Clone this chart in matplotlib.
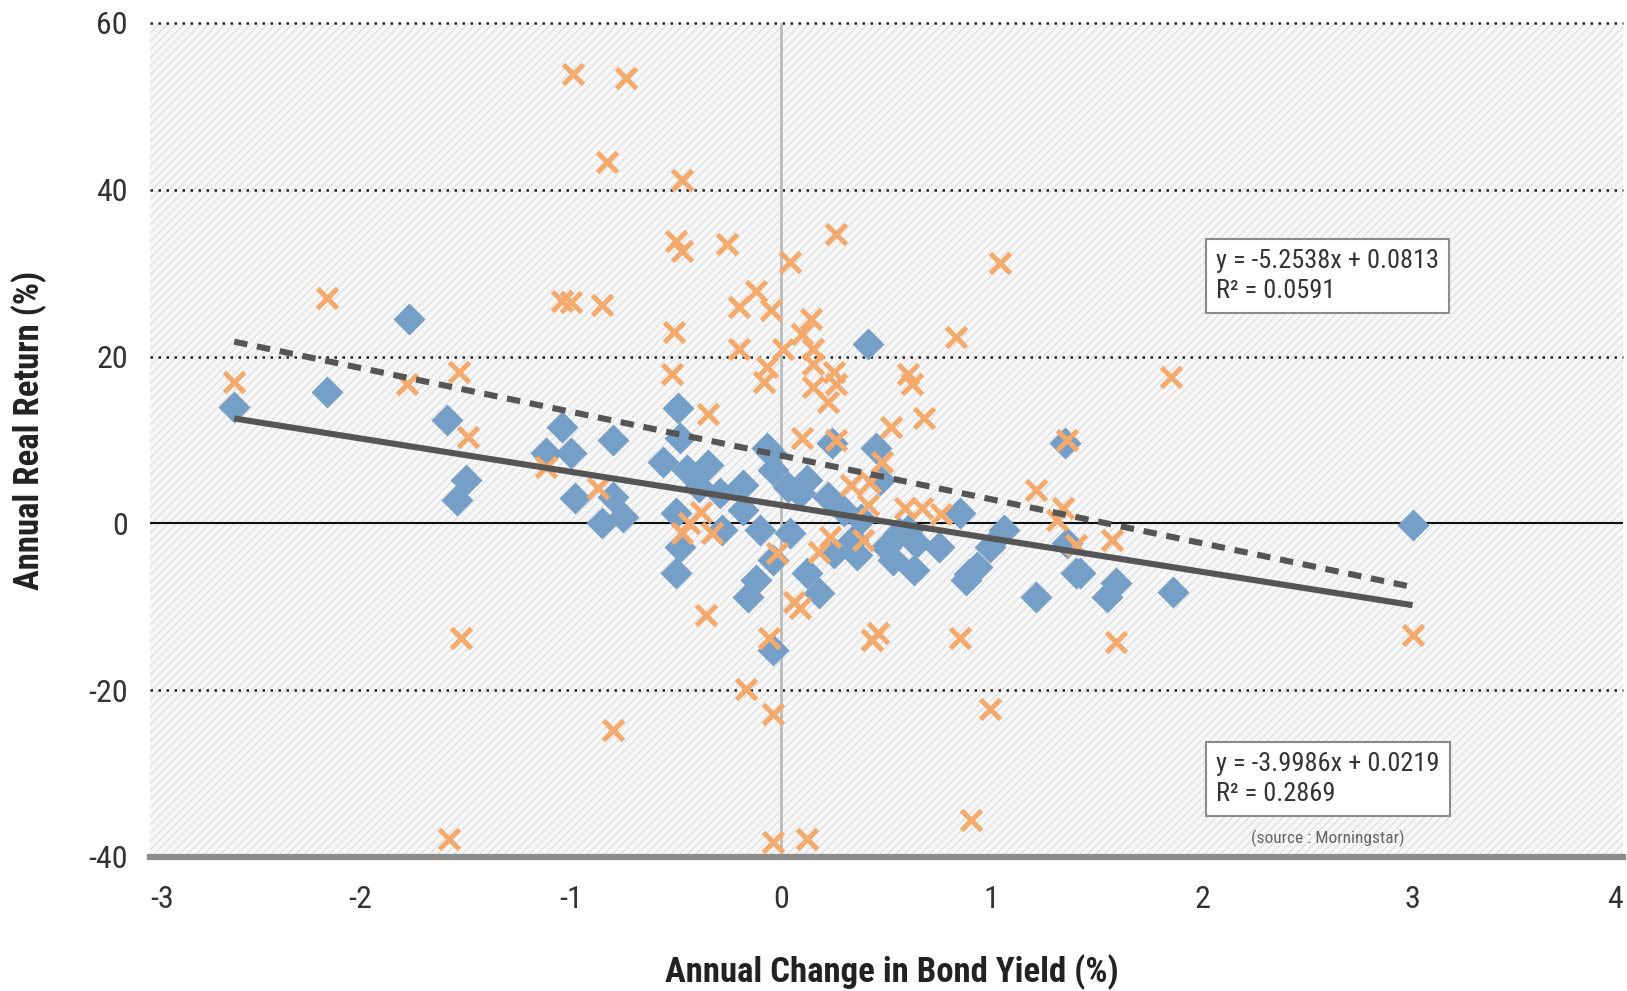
import matplotlib
matplotlib.use('Agg')
import matplotlib.pyplot as plt
from matplotlib import font_manager as fm
from matplotlib.patches import Rectangle
import numpy as np

# ---------------- data ----------------
blue_x = [-2.60, -2.16, -1.77, -1.59, -1.50, -1.54, -1.04, -1.12, -1.00, -0.98,
          -0.80, -0.80, -0.85, -0.75, -0.56, -0.49, -0.48, -0.45, -0.35, -0.39,
          -0.29, -0.18, -0.05, -0.04, 0.03, 0.12, 0.09, 0.22, 0.24, 0.45,
          0.47, -0.50, -0.48, -0.50, -0.28, -0.18, -0.10, 0.04, -0.04, -0.12,
          -0.16, 0.12, 0.18, 0.25, 0.34, 0.50, 0.53, 0.63, 0.60, -0.04,
          0.41, -0.07, 1.35, 0.85, 1.06, 0.99, 0.93, 0.88, 0.75, 1.36,
          1.40, 1.21, 1.59, 1.55, 1.86, 3.00, 0.30, 0.38, 0.36, 0.56,
          0.64, 0.89, 1.42]
blue_y = [13.9, 15.8, 24.5, 12.4, 5.2, 2.8, 11.5, 8.4, 8.4, 3.0,
          10.0, 3.2, 0.0, 0.8, 7.4, 13.8, 10.2, 6.4, 7.0, 4.4,
          3.6, 4.6, 8.4, 6.4, 4.4, 5.2, 3.6, 3.2, 9.6, 9.0,
          5.2, 1.2, -2.8, -6.0, -0.8, 1.6, -0.8, -1.2, -4.4, -6.8,
          -8.8, -6.0, -8.4, -3.6, -2.0, -2.8, -4.4, -5.6, -0.8, -15.2,
          21.5, 9.1, 9.6, 1.2, -0.8, -2.8, -5.2, -6.8, -2.8, -2.4,
          -6.0, -8.8, -7.2, -8.8, -8.2, -0.2, 1.5, 0.5, -3.8, -1.2,
          -2.4, -6.1, -6.0]

orange_x = [-2.60, -2.16, -1.78, -1.53, -1.49, -1.52, -1.58, -1.12, -0.87, -0.99,
            -0.74, -0.83, -0.47, -0.50, -0.47, -0.26, 0.26, 0.04, 1.04, -1.04,
            -1.00, -0.85, -0.12, -0.20, -0.05, 0.14, -0.51, 0.10, 0.83, -0.20,
            0.01, 0.15, -0.52, -0.07, -0.08, 0.15, 0.25, 0.15, 0.26, 0.22,
            0.60, 0.62, 0.68, 0.52, -0.35, 0.10, 0.26, 1.36, 1.85, 0.48,
            0.33, 0.42, 0.41, 0.59, 0.67, 0.76, 1.21, 1.34, 1.31, 1.40,
            1.57, -0.38, -0.44, -0.47, -0.33, -0.02, 0.18, 0.23, 0.39, 0.06,
            0.09, -0.36, -0.06, 0.43, 0.46, 0.85, 1.59, 3.00, 0.99, 0.90,
            0.12, -0.04, -0.04, -0.17, -0.80]
orange_y = [17.0, 27.0, 16.7, 18.2, 10.3, -13.8, -37.8, 6.8, 4.2, 53.9,
            53.4, 43.3, 41.2, 33.9, 32.7, 33.5, 34.7, 31.3, 31.2, 26.7,
            26.5, 26.2, 27.9, 26.0, 25.6, 24.5, 22.9, 22.7, 22.3, 20.9,
            20.9, 20.9, 17.9, 18.7, 16.9, 19.1, 18.1, 16.3, 16.7, 14.5,
            17.9, 16.7, 12.6, 11.5, 13.1, 10.2, 10.0, 10.0, 17.5, 7.4,
            4.6, 5.0, 2.2, 1.9, 1.9, 1.1, 4.0, 1.8, 0.4, -2.6,
            -2.0, 1.4, 0.0, -1.2, -1.2, -3.6, -3.4, -1.6, -2.0, -9.4,
            -10.2, -11.0, -13.8, -14.0, -13.2, -13.8, -14.2, -13.4, -22.3, -35.6,
            -37.8, -38.2, -22.9, -19.9, -24.8]

# linear trend lines (in % units): blue = solid, orange = dashed
fit_slope = {'blue': -3.9986, 'orange': -5.2538}
fit_intercept = {'blue': 2.19, 'orange': 8.13}
eq_blue = ["y = -3.9986x + 0.0219", "R\u00b2 = 0.2869"]
eq_orange = ["y = -5.2538x + 0.0813", "R\u00b2 = 0.0591"]
source_text = "(source : Morningstar)"

x_ticks = [-3, -2, -1, 0, 1, 2, 3, 4]
y_ticks = [-40, -20, 0, 20, 40, 60]
dotted_grid = [60, 40, 20, -20]
x_label = "Annual Change in Bond Yield (%)"
y_label = "Annual Real Return (%)"

# ---------------- fonts ----------------
names = {f.name for f in fm.fontManager.ttflist}
family = 'DejaVu Sans'
for cand in ['Roboto Condensed', 'Liberation Sans Narrow', 'Open Sans Condensed']:
    if cand in names:
        family = cand
        break
plt.rcParams['font.family'] = [family, 'DejaVu Sans']
if family == 'DejaVu Sans':
    plt.rcParams['font.stretch'] = 'condensed'
plt.rcParams['hatch.linewidth'] = 1.0

BLUE = '#769fc8'
ORANGE = '#f4aa6c'
LINE = '#555555'
TXT = '#333333'

W, H = 1627, 991
fig = plt.figure(figsize=(W / 100, H / 100), dpi=100)
fig.patch.set_facecolor('white')
ax = fig.add_axes([150 / W, (H - 857) / H, 1473 / W, 834 / H])
ax.set_xlim(-3, 4)
ax.set_ylim(-40, 60)
ax.set_facecolor('#f6f6f6')
ax.add_patch(Rectangle((0, 0), 1, 1, transform=ax.transAxes, facecolor='#f7f7f7',
                       edgecolor='#e1e1e1', hatch='////', lw=0, zorder=0))

for yv in dotted_grid:
    ax.axhline(yv, color='#222222', lw=1.8, ls=(0, (1, 2.2)), zorder=1, clip_on=False)
ax.axhline(0, color='#111111', lw=1.5, zorder=1.5)
ax.axvline(0, color='#bcbcbc', lw=2, zorder=1.5)

for s in ['top', 'right', 'left']:
    ax.spines[s].set_visible(False)
ax.spines['bottom'].set_color('#8c8c8c')
ax.spines['bottom'].set_linewidth(4.5)
ax.spines['bottom'].set_zorder(2)

ax.set_xticks(x_ticks)
ax.set_yticks(y_ticks)
ax.set_xticklabels([str(v) for v in x_ticks])
ax.set_yticklabels([str(v) for v in y_ticks])
ax.tick_params(axis='both', length=0, labelsize=23, labelcolor=TXT)
ax.tick_params(axis='x', pad=20)
ax.tick_params(axis='y', pad=16)
xtl = ax.get_xticklabels()
xtl[0].set_ha('left')
xtl[-1].set_ha('right')

# scatter points
ax.plot(blue_x, blue_y, ls='none', marker='D', ms=16.5, mfc=BLUE, mec='none', zorder=3)
ax.plot(orange_x, orange_y, ls='none', marker='x', ms=14, mew=3.6, color=ORANGE, zorder=4)

# trend lines
for key, xs, style in [('blue', blue_x, '-'), ('orange', orange_x, '--')]:
    xx = np.array([min(xs), max(xs)])
    yy = fit_slope[key] * xx + fit_intercept[key]
    ln, = ax.plot(xx, yy, color=LINE, lw=4.4, solid_capstyle='butt', zorder=5)
    if style == '--':
        ln.set_dashes((2.2, 1.6))
        ln.set_dash_capstyle('butt')

box = dict(boxstyle='square,pad=0.38', fc='white', ec='#8c8c8c', lw=1.5)
ax.text((1216 - 150) / 1473, (857 - 276) / 834, "\n".join(eq_orange), transform=ax.transAxes,
        ha='left', va='center', fontsize=19, color=TXT, bbox=box, linespacing=1.3, zorder=6)
ax.text((1216 - 150) / 1473, (857 - 779) / 834, "\n".join(eq_blue), transform=ax.transAxes,
        ha='left', va='center', fontsize=19, color=TXT, bbox=box, linespacing=1.3, zorder=6)
ax.text((1328 - 150) / 1473, (857 - 838) / 834, source_text, transform=ax.transAxes,
        ha='center', va='center', fontsize=12.5, color='#666666', zorder=6)

fig.text(29 / W, 1 - 430 / H, y_label, rotation=90, ha='center', va='center',
         fontsize=25, fontweight='bold', color='#222222')
fig.text(892 / W, 1 - 972 / H, x_label, ha='center', va='center',
         fontsize=25, fontweight='bold', color='#222222')

fig.savefig('out.png', dpi=100, facecolor='white')
